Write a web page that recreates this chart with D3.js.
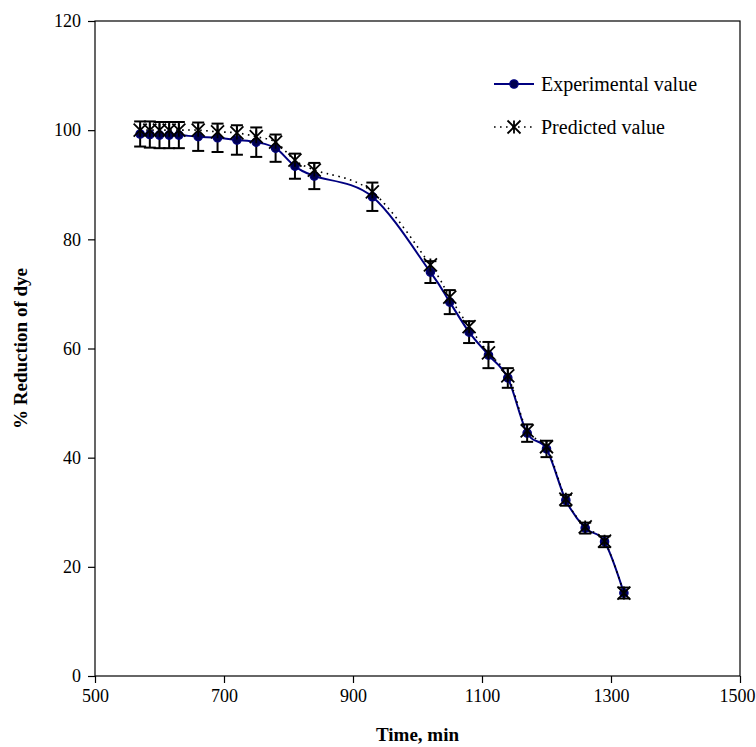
<!DOCTYPE html>
<html>
<head>
<meta charset="utf-8">
<script src="https://cdn.jsdelivr.net/npm/d3@7"></script>
<style>
  body { margin: 0; background: #fff; }
  svg { display: block; }
  text { font-family: "Liberation Serif", "Times New Roman", serif; }
</style>
</head>
<body>
<svg id="chart"></svg>
<script>
// time (min) for each sample
const times = [570, 585, 600, 615, 630, 660, 690, 720, 750, 780, 810, 840,
               930, 1020, 1050, 1080, 1110, 1140, 1170, 1200, 1230, 1260, 1290, 1320];
// % reduction of dye, measured
const experimental = [99.3, 99.2, 99.1, 99.1, 99.1, 98.8, 98.6, 98.2, 97.8, 96.7, 93.4, 91.6,
                      87.8, 74.0, 68.5, 63.0, 58.8, 54.6, 44.5, 41.6, 32.2, 27.1, 24.6, 15.2];
// error bar half-lengths of the measured values
const errors = [2.3, 2.4, 2.4, 2.4, 2.4, 2.6, 2.6, 2.7, 2.7, 2.5, 2.3, 2.4,
                2.6, 2.0, 2.2, 2.0, 2.4, 1.8, 1.6, 1.5, 1.0, 1.0, 1.0, 1.0];
// % reduction of dye, model
const predicted = [100.0, 100.0, 100.0, 100.0, 100.0, 100.0, 99.7, 99.5, 98.8, 97.8, 94.5, 92.7,
                   88.7, 75.3, 69.4, 64.0, 59.2, 55.0, 44.9, 42.0, 32.4, 27.3, 24.7, 15.2];
const xTicks = [500, 700, 900, 1100, 1300, 1500];
const yTicks = [0, 20, 40, 60, 80, 100, 120];
const seriesNames = ["Experimental value", "Predicted value"];

const width = 756, height = 747;
const margin = {top: 21, right: 16, bottom: 71, left: 95};
const innerW = width - margin.left - margin.right;
const innerH = height - margin.top - margin.bottom;

const svg = d3.select("#chart").attr("width", width).attr("height", height);
const g = svg.append("g").attr("transform", `translate(${margin.left},${margin.top})`);

const x = d3.scaleLinear().domain([500, 1500]).range([0, innerW]);
const y = d3.scaleLinear().domain([0, 120]).range([innerH, 0]);

// frame
g.append("rect")
    .attr("width", innerW).attr("height", innerH)
    .attr("fill", "none").attr("stroke", "#000").attr("stroke-width", 1.2);

const xAxis = g.append("g")
    .attr("transform", `translate(0,${innerH})`)
    .call(d3.axisBottom(x).tickValues(xTicks).tickSize(7).tickPadding(6).tickFormat(d3.format("d")));
const yAxis = g.append("g")
    .call(d3.axisLeft(y).tickValues(yTicks).tickSize(7).tickPadding(7));
[xAxis, yAxis].forEach(a => {
    a.attr("font-family", "'Liberation Serif', serif").attr("font-size", 18);
    a.select(".domain").remove();
    a.selectAll("line").attr("stroke", "#000").attr("stroke-width", 1.2);
    a.selectAll("text").attr("fill", "#000");
});
// keep the last label inside the page
xAxis.selectAll(".tick text").filter(d => d === 1500).attr("dx", -3);

const data = times.map((t, i) => ({t, e: experimental[i], err: errors[i], p: predicted[i]}));

const smooth = d3.curveCardinal.tension(0);

// experimental line
g.append("path")
    .datum(data)
    .attr("fill", "none").attr("stroke", "#000080").attr("stroke-width", 2)
    .attr("d", d3.line().x(d => x(d.t)).y(d => y(d.e)).curve(smooth));

// predicted line
g.append("path")
    .datum(data)
    .attr("fill", "none").attr("stroke", "#000").attr("stroke-width", 1.6)
    .attr("stroke-dasharray", "1.6,4.4")
    .attr("d", d3.line().x(d => x(d.t)).y(d => y(d.p)).curve(smooth));

// error bars
const eb = g.append("g").attr("stroke", "#000").attr("stroke-width", 2);
data.forEach(d => {
    const cx = x(d.t);
    eb.append("line").attr("x1", cx).attr("x2", cx).attr("y1", y(d.e - d.err)).attr("y2", y(d.e + d.err));
    eb.append("line").attr("x1", cx - 6).attr("x2", cx + 6).attr("y1", y(d.e - d.err)).attr("y2", y(d.e - d.err));
    eb.append("line").attr("x1", cx - 6).attr("x2", cx + 6).attr("y1", y(d.e + d.err)).attr("y2", y(d.e + d.err));
});

function circleMark(sel, cx, cy) {
    sel.append("circle").attr("cx", cx).attr("cy", cy).attr("r", 4.2)
        .attr("fill", "#000050").attr("stroke", "#000080").attr("stroke-width", 1.2);
}
function starMark(sel, cx, cy) {
    const s = 6.5;
    const p = `M${cx - s},${cy - s}L${cx + s},${cy + s}M${cx - s},${cy + s}L${cx + s},${cy - s}M${cx},${cy - s}L${cx},${cy + s}`;
    sel.append("path").attr("d", p).attr("stroke", "#000").attr("stroke-width", 1.8).attr("fill", "none");
}

const marks = g.append("g");
data.forEach(d => circleMark(marks, x(d.t), y(d.e)));
data.forEach(d => starMark(marks, x(d.t), y(d.p)));

// legend
const legend = svg.append("g");
const lx = 494, ly = [84, 127];
legend.append("line").attr("x1", lx).attr("x2", lx + 40).attr("y1", ly[0]).attr("y2", ly[0])
    .attr("stroke", "#000080").attr("stroke-width", 2);
circleMark(legend, lx + 20, ly[0]);
legend.append("line").attr("x1", lx).attr("x2", lx + 40).attr("y1", ly[1]).attr("y2", ly[1])
    .attr("stroke", "#000").attr("stroke-width", 1.6).attr("stroke-dasharray", "1.6,4.4");
starMark(legend, lx + 20, ly[1]);
seriesNames.forEach((n, i) => {
    legend.append("text").attr("x", lx + 47).attr("y", ly[i]).attr("dy", "0.33em")
        .attr("font-size", "20px").text(n);
});

// axis titles
svg.append("text")
    .attr("x", margin.left + innerW / 2).attr("y", 741)
    .attr("text-anchor", "middle").attr("font-size", "19px").attr("font-weight", "bold")
    .text("Time, min");
svg.append("text")
    .attr("transform", `translate(27,${margin.top + innerH / 2}) rotate(-90)`)
    .attr("text-anchor", "middle").attr("font-size", "19px").attr("font-weight", "bold")
    .text("% Reduction of dye");
</script>
</body>
</html>
